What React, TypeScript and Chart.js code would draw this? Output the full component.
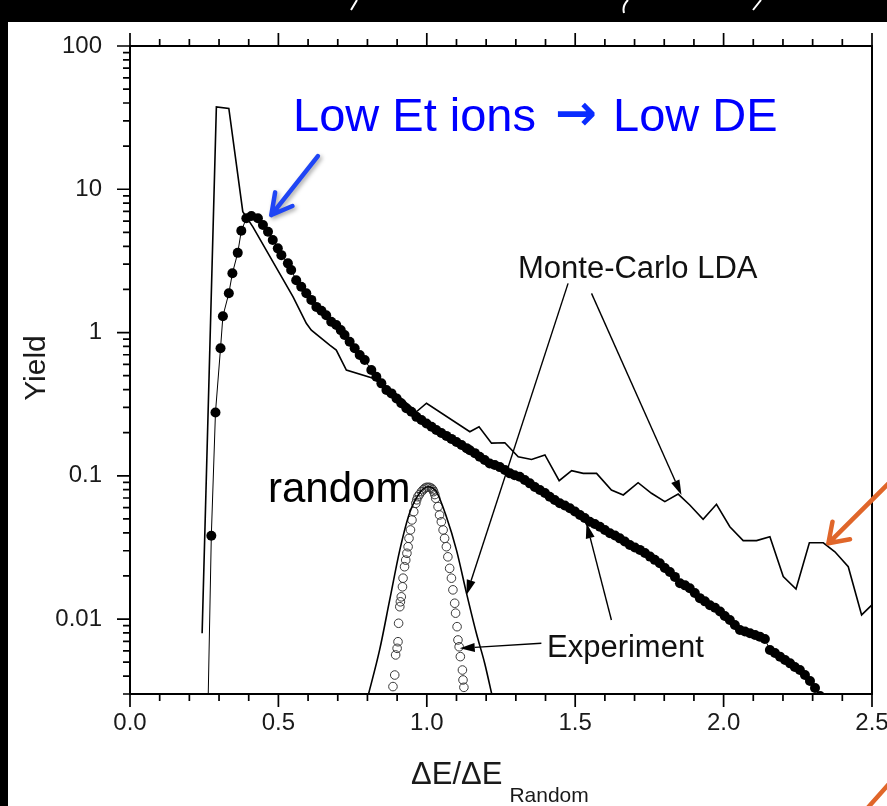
import React, { useEffect, useRef } from "react";
import { Chart, registerables } from "chart.js";

Chart.register(...registerables);

const FONT = '"Liberation Sans", Arial, Helvetica, sans-serif';

// ---- axis ticks ----
const xTickValues = [0, 0.1, 0.2, 0.3, 0.4, 0.5, 0.6, 0.7, 0.8, 0.9, 1.0, 1.1, 1.2, 1.3, 1.4, 1.5, 1.6, 1.7, 1.8, 1.9, 2.0, 2.1, 2.2, 2.3, 2.4, 2.5];
const xTickLabels = ["0.0", "0.5", "1.0", "1.5", "2.0", "2.5"];
const yDecades = [-3, -2, -1, 0, 1, 2];
const yTickLabels = ["0.01", "0.1", "1", "10", "100"]; // exponents -2..2

// ---- data: [ΔE/ΔE_Random, Yield] ----
const experimentChanneled: [number, number][] = [
  [0.262, 0.002], [0.274, 0.0382], [0.288, 0.277], [0.305, 0.776], [0.313, 1.30], [0.333, 1.88], [0.345, 2.59], [0.363, 3.60], [0.375, 5.13], [0.392, 6.27],
  [0.409, 6.50], [0.431, 6.27], [0.448, 5.63], [0.465, 5.05], [0.481, 4.42], [0.498, 3.87], [0.510, 3.47], [0.532, 3.04], [0.543, 2.73], [0.560, 2.32],
  [0.577, 2.09], [0.594, 1.88], [0.611, 1.69], [0.628, 1.51], [0.645, 1.42], [0.661, 1.32], [0.678, 1.19], [0.695, 1.13], [0.710, 1.04], [0.723, 0.961],
  [0.740, 0.863], [0.757, 0.776], [0.774, 0.697], [0.791, 0.643], [0.813, 0.547], [0.830, 0.491], [0.847, 0.442], [0.864, 0.397], [0.881, 0.376], [0.898, 0.347],
  [0.914, 0.321], [0.931, 0.296], [0.948, 0.280], [0.965, 0.258], [0.982, 0.245], [0.999, 0.232], [1.016, 0.220], [1.032, 0.209], [1.049, 0.199], [1.066, 0.190],
  [1.083, 0.181], [1.100, 0.172], [1.117, 0.164], [1.134, 0.156], [1.145, 0.151], [1.162, 0.144], [1.178, 0.136], [1.195, 0.129], [1.212, 0.122], [1.229, 0.119],
  [1.246, 0.115], [1.263, 0.110], [1.280, 0.104], [1.296, 0.101], [1.313, 0.0986], [1.330, 0.0935], [1.347, 0.0886], [1.364, 0.0835], [1.381, 0.0796], [1.398, 0.0759],
  [1.414, 0.0715], [1.431, 0.0678], [1.448, 0.0643], [1.465, 0.0620], [1.482, 0.0593], [1.499, 0.0563], [1.516, 0.0532], [1.532, 0.0507], [1.549, 0.0478], [1.566, 0.0461],
  [1.583, 0.0441], [1.600, 0.0418], [1.617, 0.0397], [1.634, 0.0383], [1.650, 0.0366], [1.667, 0.0348], [1.684, 0.0329], [1.701, 0.0316], [1.718, 0.0304], [1.735, 0.0289],
  [1.752, 0.0273], [1.768, 0.0259], [1.785, 0.0245], [1.802, 0.0227], [1.819, 0.0213], [1.836, 0.0197], [1.853, 0.0178], [1.870, 0.0172], [1.886, 0.0164], [1.903, 0.0152],
  [1.920, 0.0140], [1.937, 0.0133], [1.954, 0.0125], [1.971, 0.0120], [1.988, 0.0113], [2.004, 0.0105], [2.021, 0.00986], [2.038, 0.00910], [2.055, 0.00839], [2.072, 0.00819],
  [2.089, 0.00796], [2.106, 0.00775], [2.122, 0.00754], [2.139, 0.00726], [2.156, 0.00609], [2.173, 0.00580], [2.190, 0.00547], [2.207, 0.00518], [2.224, 0.00491], [2.240, 0.00463],
  [2.257, 0.00441], [2.274, 0.00407], [2.291, 0.00370], [2.308, 0.00330], [2.325, 0.0029],
];

const monteCarloChanneled: [number, number][] = [
  [0.243, 0.00796], [0.291, 37.6], [0.333, 36.7], [0.380, 6.97], [0.414, 5.47], [0.459, 3.76], [0.504, 2.59], [0.549, 1.78], [0.594, 1.16], [0.611, 1.04],
  [0.673, 0.818], [0.695, 0.755], [0.729, 0.547], [0.819, 0.479], [0.892, 0.38], [0.965, 0.280], [0.999, 0.321], [1.145, 0.203], [1.176, 0.220], [1.218, 0.169],
  [1.263, 0.170], [1.308, 0.136], [1.353, 0.130], [1.398, 0.140], [1.446, 0.0924], [1.488, 0.1085], [1.527, 0.104], [1.572, 0.104], [1.622, 0.0796], [1.662, 0.0735],
  [1.712, 0.0895], [1.757, 0.0755], [1.802, 0.066], [1.847, 0.0746], [1.886, 0.0626], [1.931, 0.0497], [1.976, 0.0633], [2.021, 0.0441], [2.066, 0.0353], [2.111, 0.0353],
  [2.156, 0.0376], [2.201, 0.0198], [2.244, 0.0162], [2.289, 0.0341], [2.336, 0.0341], [2.375, 0.0295], [2.420, 0.0232], [2.465, 0.0107], [2.499, 0.0125],
];

const monteCarloRandom: [number, number][] = [
  [0.800, 0.0028], [0.841, 0.00609], [0.875, 0.0136], [0.909, 0.0303], [0.942, 0.055], [0.976, 0.0759], [1.004, 0.0839],
  [1.032, 0.0775], [1.066, 0.0518], [1.100, 0.0303], [1.134, 0.0151], [1.167, 0.00796], [1.195, 0.00492], [1.222, 0.0028],
];

const experimentRandom: [number, number][] = [
  [0.886, 0.00338], [0.892, 0.00407], [0.895, 0.00562], [0.900, 0.00625], [0.903, 0.00695], [0.905, 0.00935], [0.909, 0.0122], [0.911, 0.0132],
  [0.914, 0.0143], [0.918, 0.0168], [0.920, 0.0193], [0.925, 0.0232], [0.929, 0.0258], [0.933, 0.0288], [0.937, 0.0320], [0.940, 0.0366],
  [0.945, 0.0419], [0.950, 0.0492], [0.956, 0.0562], [0.963, 0.0643], [0.966, 0.068], [0.970, 0.0715], [0.975, 0.074], [0.982, 0.0775],
  [0.988, 0.080], [0.993, 0.0818], [0.998, 0.083], [1.004, 0.0831], [1.010, 0.083], [1.016, 0.0818], [1.020, 0.080], [1.023, 0.0775],
  [1.027, 0.074], [1.030, 0.0697], [1.038, 0.0609], [1.043, 0.0533], [1.049, 0.0478], [1.055, 0.0419], [1.060, 0.0366], [1.066, 0.0320],
  [1.071, 0.0272], [1.077, 0.0226], [1.083, 0.0193], [1.088, 0.0160], [1.094, 0.0129], [1.097, 0.0110], [1.102, 0.00885], [1.105, 0.00715],
  [1.109, 0.00641], [1.113, 0.00547], [1.120, 0.00441], [1.122, 0.00376], [1.125, 0.00334],
];

const toPoints = (arr: [number, number][]) => arr.map(([x, y]) => ({ x, y }));
const isPow10 = (v: number) => {
  const e = Math.log10(v);
  return Math.abs(e - Math.round(e)) < 1e-9;
};
const isHalf = (v: number) => Math.abs(v / 0.5 - Math.round(v / 0.5)) < 1e-6;

function filledArrow(ctx: CanvasRenderingContext2D, x1: number, y1: number, x2: number, y2: number, color: string) {
  const ang = Math.atan2(y2 - y1, x2 - x1);
  const hl = 15, hw = 4.5;
  const bx = x2 - hl * Math.cos(ang), by = y2 - hl * Math.sin(ang);
  ctx.strokeStyle = color;
  ctx.fillStyle = color;
  ctx.lineWidth = 1.4;
  ctx.beginPath();
  ctx.moveTo(x1, y1);
  ctx.lineTo(bx, by);
  ctx.stroke();
  ctx.beginPath();
  ctx.moveTo(x2, y2);
  ctx.lineTo(bx + hw * Math.sin(ang), by - hw * Math.cos(ang));
  ctx.lineTo(bx - hw * Math.sin(ang), by + hw * Math.cos(ang));
  ctx.closePath();
  ctx.fill();
}

function vArrow(ctx: CanvasRenderingContext2D, x1: number, y1: number, x2: number, y2: number, color: string, lw: number, hl: number, spread: number) {
  const ang = Math.atan2(y1 - y2, x1 - x2);
  ctx.strokeStyle = color;
  ctx.lineWidth = lw;
  ctx.lineCap = "round";
  ctx.lineJoin = "round";
  ctx.beginPath();
  ctx.moveTo(x1, y1);
  ctx.lineTo(x2, y2);
  ctx.moveTo(x2 + hl * Math.cos(ang - spread), y2 + hl * Math.sin(ang - spread));
  ctx.lineTo(x2, y2);
  ctx.lineTo(x2 + hl * Math.cos(ang + spread), y2 + hl * Math.sin(ang + spread));
  ctx.stroke();
}

const backgroundPlugin = {
  id: "slideBackground",
  beforeDraw(chart: any) {
    const { ctx, width, height } = chart;
    ctx.save();
    ctx.fillStyle = "#ffffff";
    ctx.fillRect(0, 0, width, height);
    ctx.fillStyle = "#000000";
    ctx.fillRect(0, 0, width, 22);
    ctx.fillRect(0, 0, 8, height);
    ctx.strokeStyle = "#ffffff";
    ctx.lineWidth = 2;
    ctx.beginPath();
    ctx.moveTo(357, 0); ctx.lineTo(351, 10);
    ctx.moveTo(628, 0); ctx.quadraticCurveTo(622, 6, 624, 13);
    ctx.moveTo(761, 0); ctx.lineTo(753, 10);
    ctx.stroke();
    ctx.restore();
  },
};

const framePlugin = {
  id: "frameAndTicks",
  afterDatasetsDraw(chart: any) {
    const { ctx, chartArea: a, scales } = chart;
    const xs = scales.x, ys = scales.y;
    ctx.save();
    ctx.strokeStyle = "#000";
    ctx.lineWidth = 2;
    ctx.strokeRect(a.left, a.top, a.right - a.left, a.bottom - a.top);
    ctx.lineWidth = 1.7;
    ctx.beginPath();
    xs.ticks.forEach((t: any) => {
      const px = xs.getPixelForValue(t.value);
      const len = isHalf(t.value) ? 13 : 7;
      ctx.moveTo(px, a.bottom);
      ctx.lineTo(px, a.bottom + len);
      ctx.moveTo(px, a.top);
      ctx.lineTo(px, a.top - len);
    });
    ys.ticks.forEach((t: any) => {
      const py = ys.getPixelForValue(t.value);
      const len = isPow10(t.value) ? 13 : 7;
      ctx.moveTo(a.left, py);
      ctx.lineTo(a.left - len, py);
    });
    ctx.stroke();
    ctx.restore();
  },
};

const annotationPlugin = {
  id: "annotations",
  afterDraw(chart: any) {
    const { ctx, scales } = chart;
    const X = (v: number) => scales.x.getPixelForValue(v);
    const Y = (v: number) => scales.y.getPixelForValue(v);
    ctx.save();

    // axis titles
    ctx.fillStyle = "#1a1a1a";
    ctx.textBaseline = "alphabetic";
    ctx.textAlign = "left";
    ctx.font = `31px ${FONT}`;
    ctx.fillText("\u0394E/\u0394E", 411, 784);
    const w = ctx.measureText("\u0394E/\u0394E").width;
    ctx.font = `21px ${FONT}`;
    ctx.fillText("Random", 411 + w + 7, 802);

    ctx.save();
    ctx.translate(45, 368);
    ctx.rotate(-Math.PI / 2);
    ctx.textAlign = "center";
    ctx.font = `30px ${FONT}`;
    ctx.fillText("Yield", 0, 0);
    ctx.restore();

    // labels
    ctx.fillStyle = "#111";
    ctx.textAlign = "left";
    ctx.font = `31px ${FONT}`;
    ctx.fillText("Monte-Carlo LDA", 518, 278);
    ctx.fillText("Experiment", 547, 657);
    ctx.fillStyle = "#000";
    ctx.font = `42px ${FONT}`;
    ctx.fillText("random", 268, 502);

    // black arrows
    filledArrow(ctx, X(1.476), Y(2.205), X(1.1335), Y(0.01473), "#000");
    filledArrow(ctx, X(1.555), Y(1.877), X(1.858), Y(0.0735), "#000");
    filledArrow(ctx, X(1.386), Y(0.00678), X(1.111), Y(0.00625), "#000");
    filledArrow(ctx, X(1.622), Y(0.00986), X(1.538), Y(0.0466), "#000");

    // blue title
    ctx.font = `47px ${FONT}`;
    ctx.fillStyle = "#0000ff";
    ctx.fillText("Low Et ions", 293, 131);
    ctx.fillStyle = "#0a2cff";
    ctx.textAlign = "center";
    ctx.font = `bold 50px "DejaVu Sans", ${FONT}`;
    ctx.fillText("\u2192", 576, 130);
    ctx.textAlign = "left";
    ctx.font = `47px ${FONT}`;
    ctx.fillStyle = "#0000ff";
    ctx.fillText("Low DE", 613, 131);

    // blue arrow with shadow
    ctx.save();
    ctx.shadowColor = "rgba(0,0,0,0.35)";
    ctx.shadowBlur = 4;
    ctx.shadowOffsetX = 2;
    ctx.shadowOffsetY = 2;
    vArrow(ctx, X(0.633), Y(17.05), X(0.476), Y(6.61), "#1f45f5", 4.5, 23, 0.5);
    ctx.restore();

    // orange arrows
    vArrow(ctx, X(2.60), Y(0.109), X(2.353), Y(0.0338), "#e0662a", 4.5, 22, 0.6);
    ctx.strokeStyle = "#e0662a";
    ctx.lineWidth = 4.5;
    ctx.beginPath();
    ctx.moveTo(896, 776);
    ctx.lineTo(864, 812);
    ctx.stroke();

    ctx.restore();
  },
};

export default function App() {
  const ref = useRef<HTMLCanvasElement | null>(null);

  useEffect(() => {
    document.body.style.margin = "0";
    const canvas = ref.current;
    if (!canvas) return;
    Chart.defaults.font.family = FONT;

    const yTickValues: number[] = [];
    yDecades.forEach((e) => {
      for (let k = 1; k <= 9; k++) {
        const v = Number((k * Math.pow(10, e)).toPrecision(6));
        if (v >= 0.003 - 1e-12 && v <= 100 + 1e-9) yTickValues.push(v);
      }
    });

    const chart = new Chart(canvas, {
      type: "scatter",
      data: {
        datasets: [
          {
            label: "Experiment (channeled)",
            data: toPoints(experimentChanneled),
            showLine: true,
            borderColor: "#000",
            borderWidth: 1,
            pointRadius: 5,
            pointBackgroundColor: "#000",
            pointBorderWidth: 0,
            pointHoverRadius: 5,
          },
          {
            label: "Monte-Carlo LDA (channeled)",
            data: toPoints(monteCarloChanneled),
            showLine: true,
            borderColor: "#000",
            borderWidth: 1.6,
            pointRadius: 0,
          },
          {
            label: "Monte-Carlo LDA (random)",
            data: toPoints(monteCarloRandom),
            showLine: true,
            borderColor: "#000",
            borderWidth: 1.6,
            pointRadius: 0,
            cubicInterpolationMode: "monotone",
          },
          {
            label: "Experiment (random)",
            data: toPoints(experimentRandom),
            showLine: false,
            pointRadius: 4.3,
            pointBackgroundColor: "rgba(255,255,255,0)",
            pointBorderColor: "#3a3a3a",
            pointBorderWidth: 1,
          },
        ],
      },
      options: {
        responsive: false,
        animation: false,
        devicePixelRatio: 1,
        events: [],
        layout: { padding: { top: 46, right: 15, bottom: 0, left: 0 } },
        plugins: {
          legend: { display: false },
          tooltip: { enabled: false },
          title: { display: false },
        },
        scales: {
          x: {
            type: "linear",
            position: "bottom",
            min: 0,
            max: 2.5,
            grid: { display: false, drawTicks: false },
            border: { display: false },
            afterBuildTicks: (s: any) => {
              s.ticks = xTickValues.map((v) => ({ value: v }));
            },
            afterFit: (s: any) => {
              s.height = 112;
              s.paddingLeft = 0;
              s.paddingRight = 0;
            },
            ticks: {
              autoSkip: false,
              maxRotation: 0,
              minRotation: 0,
              padding: 15,
              color: "#1a1a1a",
              font: { family: FONT, size: 24 },
              callback: (v: any) => {
                const n = Number(v);
                return isHalf(n) ? xTickLabels[Math.round(n / 0.5)] : "";
              },
            },
          },
          y: {
            type: "logarithmic",
            position: "left",
            min: 0.003,
            max: 100,
            grid: { display: false, drawTicks: false },
            border: { display: false },
            afterBuildTicks: (s: any) => {
              s.ticks = yTickValues.map((v) => ({ value: v }));
            },
            afterFit: (s: any) => {
              s.width = 130;
              s.paddingTop = 0;
              s.paddingBottom = 0;
            },
            ticks: {
              autoSkip: false,
              padding: 28,
              color: "#1a1a1a",
              font: { family: FONT, size: 24 },
              callback: (v: any) => {
                const n = Number(v);
                if (!isPow10(n)) return "";
                const idx = Math.round(Math.log10(n)) + 2;
                return yTickLabels[idx] ?? "";
              },
            },
          },
        },
      } as any,
      plugins: [backgroundPlugin, framePlugin, annotationPlugin],
    });

    return () => chart.destroy();
  }, []);

  return (
    <div style={{ position: "fixed", left: 0, top: 0, width: 887, height: 806, background: "#fff" }}>
      <canvas ref={ref} width={887} height={806} style={{ display: "block", width: 887, height: 806 }} />
    </div>
  );
}
